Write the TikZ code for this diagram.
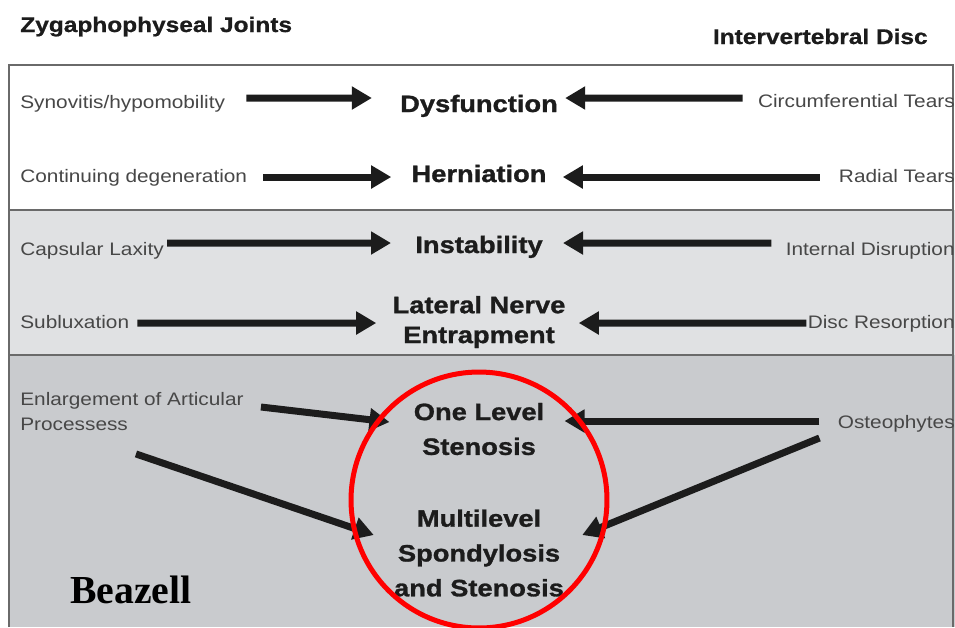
\documentclass[tikz,border=0pt]{standalone}
\usepackage{fontspec}
\setmainfont{Liberation Sans}[FakeStretch=1.15]
\newfontfamily\signfont{Liberation Serif}
\usetikzlibrary{arrows.meta}
\definecolor{bandlight}{HTML}{E0E1E3}
\definecolor{banddark}{HTML}{C9CBCE}
\definecolor{boxline}{HTML}{6A6A6A}
\definecolor{causegray}{HTML}{474747}
\definecolor{stageblack}{HTML}{1C1C1C}
\begin{document}
\begin{tikzpicture}[x=0.02cm,y=-0.02cm,>={Triangle[length=0.4cm,width=0.44cm]},
  cause/.style={inner sep=0pt,text=causegray,font=\fontsize{10.3}{14.2}\selectfont},
  stage/.style={inner sep=0pt,text=stageblack,align=center,font=\fontsize{13.5}{19.8}\selectfont\bfseries\addfontfeature{FakeBold=1.2}},
  side/.style={inner sep=0pt,text=stageblack,font=\fontsize{12.1}{14}\selectfont\bfseries\addfontfeature{FakeBold=0.8}},
  push/.style={->,line width=0.14cm,draw=stageblack}]
  \useasboundingbox (0,0) rectangle (955,627);
  \fill[white] (0,0) rectangle (955,627);
  % three bands of the table
  \fill[white] (9,65) rectangle (955,210);
  \fill[bandlight] (9,210) rectangle (955,355);
  \fill[banddark] (9,355) rectangle (955,627);
  \draw[boxline,line width=0.035cm] (9,627) -- (9,65) -- (953,65) -- (953,627);
  \draw[boxline,line width=0.035cm] (9,210) -- (953,210) (9,355) -- (953,355);
  % column heads
  \node[side,anchor=base west] (zyg) at (20,32) {Zygaphophyseal Joints};
  \node[side,anchor=base east] (ivd) at (928,44) {Intervertebral Disc};
  % stages
  \node[stage,anchor=base] (dys) at (479,112) {Dysfunction};
  \node[stage,anchor=base] (her) at (479,182) {Herniation};
  \node[stage,anchor=base] (ins) at (479,253) {Instability};
  \node[stage,font=\fontsize{13.5}{17}\selectfont\bfseries\addfontfeature{FakeBold=1.2}] (lat) at (479,322) {Lateral Nerve\\Entrapment};
  \node[stage] (one) at (479,429) {One Level\\Stenosis};
  \node[stage] (mul) at (479,553) {Multilevel\\Spondylosis\\and Stenosis};
  % joint side
  \node[cause,anchor=base west] (syn) at (20,108) {Synovitis/hypomobility};
  \node[cause,anchor=base west] (con) at (20,182) {Continuing degeneration};
  \node[cause,anchor=base west] (cap) at (20,255) {Capsular Laxity};
  \node[cause,anchor=base west] (sub) at (20,328) {Subluxation};
  \node[cause,anchor=north west,align=left] (enl) at (20,392) {Enlargement of Articular\\Processess};
  % disc side
  \node[cause,anchor=base east] (cir) at (955,107) {Circumferential Tears};
  \node[cause,anchor=base east] (rad) at (955,182) {Radial Tears};
  \node[cause,anchor=base east] (int) at (955,255) {Internal Disruption};
  \node[cause,anchor=base east] (dis) at (955,328) {Disc Resorption};
  \node[cause,anchor=base east] (ost) at (955,428) {Osteophytes};
  % arrows into the stages
  \draw[push] ([xshift=0.42cm,yshift=0.2cm]syn.base east) -- ([xshift=-0.56cm,yshift=0.28cm]dys.base west);
  \draw[push] ([xshift=-0.3cm,yshift=0.18cm]cir.base west) -- ([xshift=0.14cm,yshift=0.28cm]dys.base east);
  \draw[push] ([xshift=0.32cm,yshift=0.1cm]con.base east) -- ([xshift=-0.4cm,yshift=0.1cm]her.base west);
  \draw[push] ([xshift=-0.38cm,yshift=0.1cm]rad.base west) -- ([xshift=0.32cm,yshift=0.1cm]her.base east);
  \draw[push] ([xshift=0.06cm,yshift=0.24cm]cap.base east) -- ([xshift=-0.48cm,yshift=0.2cm]ins.base west);
  \draw[push] ([xshift=-0.28cm,yshift=0.24cm]int.base west) -- ([xshift=0.4cm,yshift=0.2cm]ins.base east);
  \draw[push] ([xshift=0.16cm,yshift=0.1cm]sub.base east) -- ([xshift=-0.32cm,yshift=-0.02cm]lat.west);
  \draw[push] ([xshift=-0.02cm,yshift=0.1cm]dis.base west) -- ([xshift=0.26cm,yshift=-0.02cm]lat.east);
  \draw[push] ([xshift=0.34cm,yshift=-0.3cm]enl.north east) -- ([xshift=-0.48cm,yshift=0.14cm]one.west);
  \draw[push] ([xshift=0.08cm,yshift=-0.46cm]enl.south) -- ([xshift=-0.4cm,yshift=0.36cm]mul.west);
  \draw[push] ([xshift=-0.36cm,yshift=0.14cm]ost.base west) -- ([xshift=0.4cm,yshift=0.16cm]one.east);
  \draw[push] ([xshift=-0.36cm,yshift=-0.2cm]ost.base west) -- ([xshift=0.36cm,yshift=0.36cm]mul.east);
  % red ring
  \draw[red,line width=0.1cm] (479,500) circle[radius=2.56cm];
  \node[anchor=base west,inner sep=0pt,font=\signfont\fontsize{22.6}{26}\selectfont\bfseries] (sig) at (70,603) {Beazell};
\end{tikzpicture}
\end{document}
